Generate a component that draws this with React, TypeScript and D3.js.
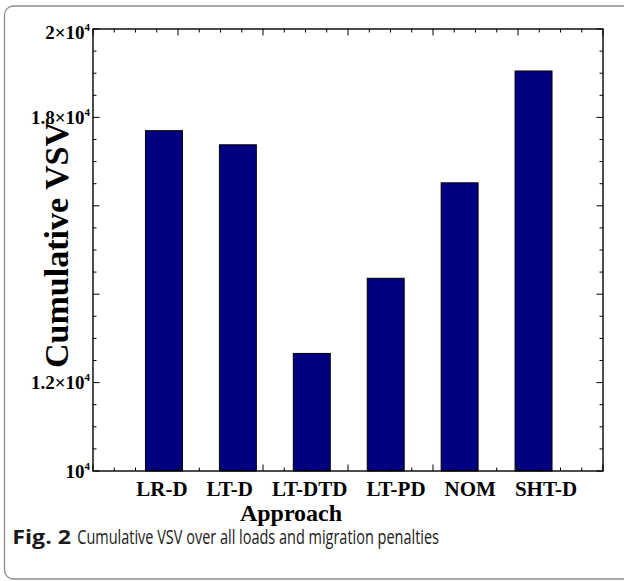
import React from "react";
import * as d3 from "d3";

// Cumulative VSV per placement approach
const approaches = ["LR-D", "LT-D", "LT-DTD", "LT-PD", "NOM", "SHT-D"];
const cumulativeVsv = [17700, 17380, 12660, 14360, 16520, 19050];

// Labelled y ticks: value and mantissa ("" means plain 10^4)
const yTickValues = [10000, 12000, 18000, 20000];
const yTickMantissa = ["", "1.2×", "1.8×", "2×"];

const W = 624;
const H = 581;
const plot = { left: 93, right: 603, top: 29, bottom: 471 };
const serif = "'Liberation Serif', 'Times New Roman', serif";
const sans = "'Open Sans', 'Noto Sans', sans-serif";

export default function App() {
  const y = d3.scaleLinear().domain([10000, 20000]).range([plot.bottom, plot.top]);
  const xAxis = d3.scaleLinear().domain([0, 6]).range([plot.left, plot.right]);
  const xBand = d3
    .scaleBand<string>()
    .domain(approaches)
    .range([127, 570.5])
    .paddingInner(0.5)
    .paddingOuter(0.25);

  const yMajor = d3.range(10000, 20001, 2000);
  const yMinor = d3.range(10000, 20001, 500).filter((v) => !yMajor.includes(v));
  const xMajor = d3.range(0, 6.001, 1);
  const xMinor = d3.range(0, 6.001, 0.25).filter((v) => Math.abs(v - Math.round(v)) > 1e-6);

  const majorLen = 6.5;
  const minorLen = 3.5;
  const axisStroke = "#000";

  return (
    <svg
      width={W}
      height={H}
      viewBox={`0 0 ${W} ${H}`}
      style={{ position: "absolute", left: 0, top: 0, background: "#fff" }}
    >
      <rect x={0} y={0} width={W} height={H} fill="#fff" />
      {/* outer figure frame */}
      <rect x={4.5} y={6} width={640} height={573} rx={9} fill="none" stroke="#8c8c8c" strokeWidth={1.3} />

      {/* bars */}
      {approaches.map((a, i) => (
        <rect
          key={a}
          x={xBand(a)}
          y={y(cumulativeVsv[i])}
          width={xBand.bandwidth()}
          height={plot.bottom - y(cumulativeVsv[i])}
          fill="#000080"
          stroke="#000"
          strokeWidth={1}
        />
      ))}

      {/* y ticks on both sides */}
      {yMajor.map((v) => (
        <g key={`ym${v}`} stroke={axisStroke} strokeWidth={1}>
          <line x1={plot.left} x2={plot.left + majorLen} y1={y(v)} y2={y(v)} />
          <line x1={plot.right} x2={plot.right - majorLen} y1={y(v)} y2={y(v)} />
        </g>
      ))}
      {yMinor.map((v) => (
        <g key={`yn${v}`} stroke={axisStroke} strokeWidth={1}>
          <line x1={plot.left} x2={plot.left + minorLen} y1={y(v)} y2={y(v)} />
          <line x1={plot.right} x2={plot.right - minorLen} y1={y(v)} y2={y(v)} />
        </g>
      ))}

      {/* x ticks on top and bottom */}
      {xMajor.map((v) => (
        <g key={`xm${v}`} stroke={axisStroke} strokeWidth={1}>
          <line x1={xAxis(v)} x2={xAxis(v)} y1={plot.top} y2={plot.top + majorLen} />
          <line x1={xAxis(v)} x2={xAxis(v)} y1={plot.bottom} y2={plot.bottom - majorLen} />
        </g>
      ))}
      {xMinor.map((v) => (
        <g key={`xn${v}`} stroke={axisStroke} strokeWidth={1}>
          <line x1={xAxis(v)} x2={xAxis(v)} y1={plot.top} y2={plot.top + minorLen} />
          <line x1={xAxis(v)} x2={xAxis(v)} y1={plot.bottom} y2={plot.bottom - minorLen} />
        </g>
      ))}

      {/* plot border */}
      <rect
        x={plot.left}
        y={plot.top}
        width={plot.right - plot.left}
        height={plot.bottom - plot.top}
        fill="none"
        stroke="#000"
        strokeWidth={1.4}
      />

      {/* y tick labels */}
      {yTickValues.map((v, i) => {
        const base = Math.max(y(v) + 6.7, plot.top + 10.3);
        return (
          <text
            key={`yl${v}`}
            x={90}
            y={base}
            textAnchor="end"
            fontFamily={serif}
            fontWeight="bold"
            fontSize={19}
            fill="#000"
          >
            {yTickMantissa[i]}10
            <tspan fontSize={11} dy={-8}>
              4
            </tspan>
          </text>
        );
      })}

      {/* category labels */}
      <text
        x={356.7}
        y={496}
        textAnchor="middle"
        fontFamily={serif}
        fontWeight="bold"
        fontSize={21}
        fill="#000"
      >
        {approaches.map((a, i) => (
          <tspan key={a} dx={i === 0 ? 0 : 19}>
            {a}
          </tspan>
        ))}
      </text>

      {/* axis titles */}
      <text
        x={291}
        y={520.5}
        textAnchor="middle"
        fontFamily={serif}
        fontWeight="bold"
        fontSize={24}
        fill="#000"
      >
        Approach
      </text>
      <text
        transform="translate(68,245) rotate(-90)"
        textAnchor="middle"
        fontFamily={serif}
        fontWeight="bold"
        fontSize={33}
        fill="#000"
        textLength={246}
        lengthAdjust="spacingAndGlyphs"
      >
        Cumulative VSV
      </text>

      {/* caption */}
      <text x={12.3} y={543.5} fontFamily={sans} fontWeight="bold" fontSize={20} fill="#1a1a1a"
        textLength={58.7} lengthAdjust="spacingAndGlyphs">
        Fig. 2
      </text>
      <text x={77.3} y={543.5} fontFamily={sans} fontSize={20} fill="#1a1a1a"
        textLength={361.7} lengthAdjust="spacingAndGlyphs">
        Cumulative VSV over all loads and migration penalties
      </text>
    </svg>
  );
}
